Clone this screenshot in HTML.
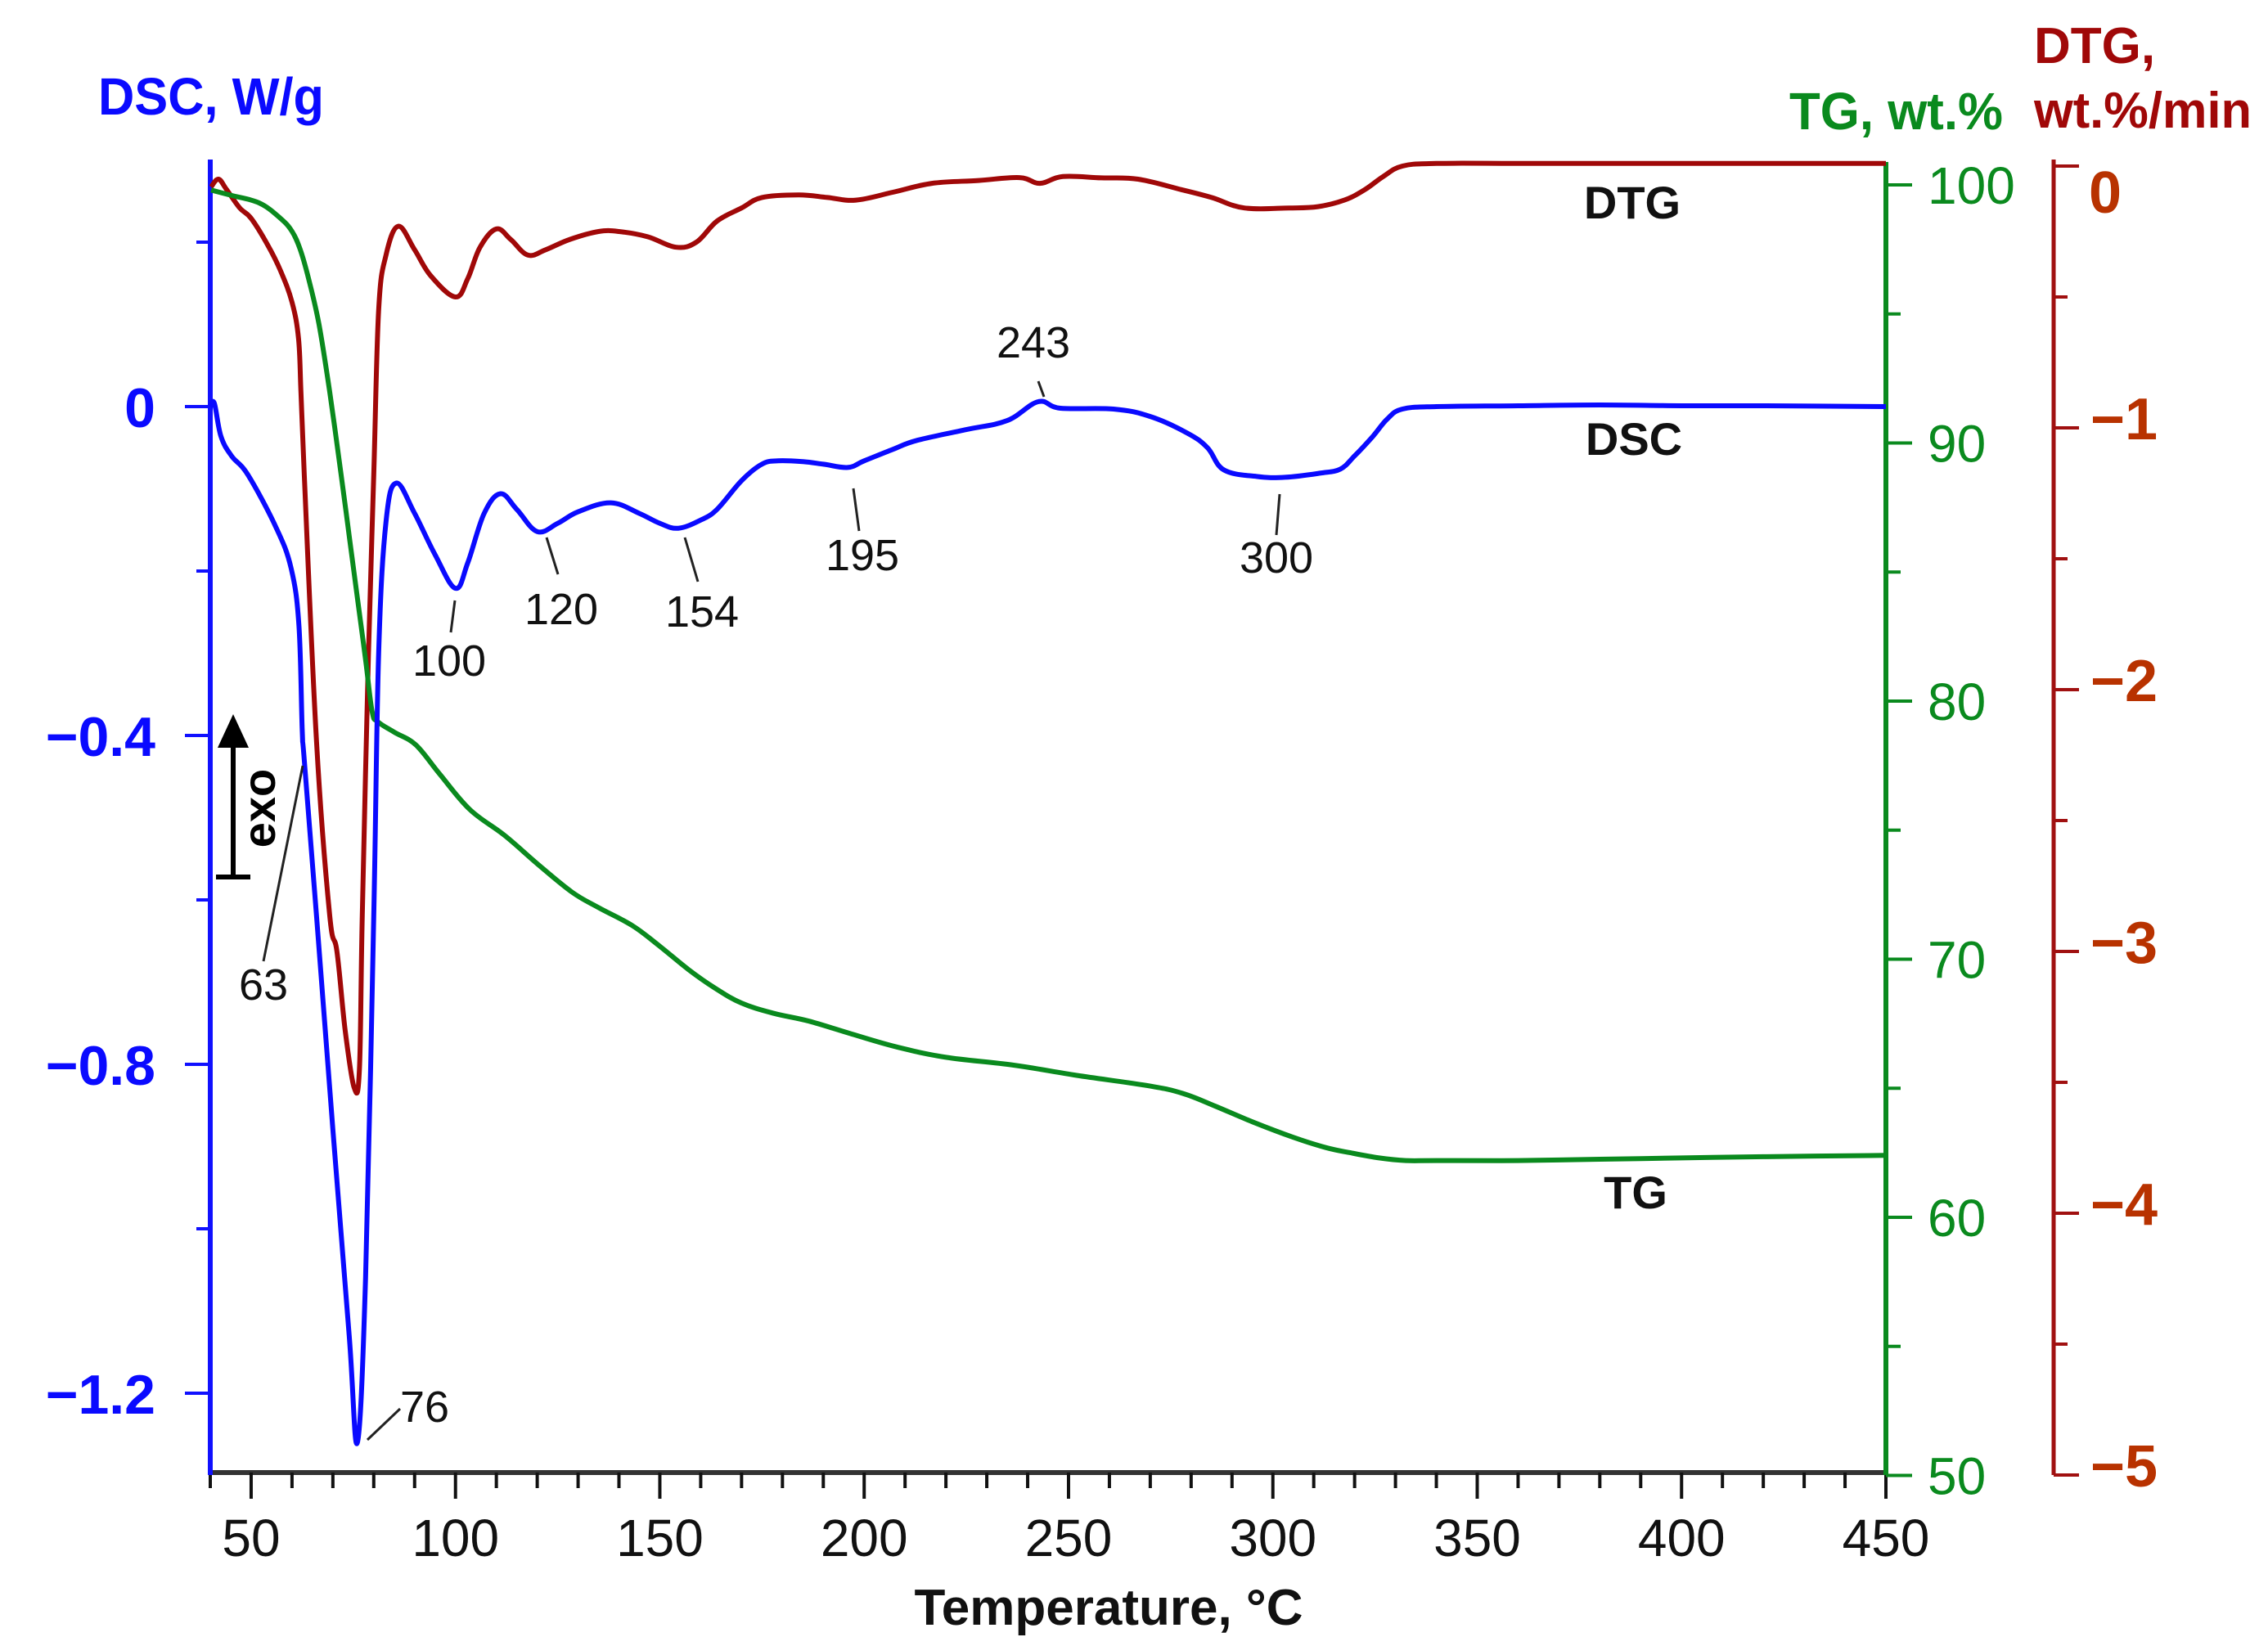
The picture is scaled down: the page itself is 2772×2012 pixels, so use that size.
<!DOCTYPE html>
<html><head><meta charset="utf-8"><style>
html,body{margin:0;padding:0;background:#fff;}
svg{display:block;}
text{font-family:"Liberation Sans",Arial,sans-serif;}
</style></head><body>
<svg id="chart" width="2772" height="2012" viewBox="0 0 2772 2012" xmlns="http://www.w3.org/2000/svg">
<g id="axes"></g>
<g id="series"></g>
<g id="annot"></g>
</svg>
<script>
// ---- data ----
const xTicks = [50,100,150,200,250,300,350,400,450];
const dscTicks = [0,-0.4,-0.8,-1.2];
const dscTickLabels = ["0","\u22120.4","\u22120.8","\u22121.2"];
const tgTicks = [100,90,80,70,60,50];
const dtgTicks = [0,-1,-2,-3,-4,-5];
const dtgTickLabels = ["0","\u22121","\u22122","\u22123","\u22124","\u22125"];

const dscT = [40,41,42.6,45.2,49.2,56,59.8,61.7,62.5,63,66,70,74,76,78,80,81.2,83,85.5,90,95,100,103,107,111,115,120,125,130,138,145,150,154.5,160,164,170,175,179,185,190,196,200,207,213,225,235,242.6,248,261,270,279,284,288,296,303,311.5,316.5,320,324.5,328,331.7,340,360,380,400,420,450];
const dscV = [0,0.004,-0.036,-0.06,-0.083,-0.146,-0.197,-0.267,-0.394,-0.43,-0.62,-0.88,-1.13,-1.26,-1.06,-0.62,-0.3,-0.14,-0.093,-0.13,-0.18,-0.221,-0.19,-0.13,-0.106,-0.125,-0.152,-0.142,-0.128,-0.117,-0.13,-0.142,-0.148,-0.138,-0.125,-0.09,-0.07,-0.066,-0.067,-0.07,-0.074,-0.066,-0.052,-0.041,-0.028,-0.017,0.006,-0.002,-0.003,-0.012,-0.032,-0.05,-0.077,-0.085,-0.086,-0.081,-0.076,-0.06,-0.036,-0.015,-0.003,0.0,0.001,0.002,0.001,0.001,0.0];

const tgT = [40.2,45,52,57.2,60,62,64,66.6,69.2,72,74,76,78,79.6,81,85,90.3,96,103.5,112,120,128.5,135,143.3,150,157,163.3,170,178,186.5,197,208,220,236.4,252,269.4,278,286,295,305,313,319,326,332.5,340,360,380,400,420,450];
const tgV = [99.8,99.6,99.3,98.7,98.2,97.5,96.4,94.6,92,88.8,86.4,84,81.6,79.6,79.2,78.8,78.3,77.2,75.8,74.8,73.7,72.6,72.0,71.3,70.5,69.6,68.9,68.3,67.9,67.6,67.1,66.6,66.2,65.9,65.5,65.1,64.8,64.3,63.7,63.1,62.7,62.5,62.3,62.2,62.2,62.2,62.25,62.3,62.35,62.4];

const dtgT = [40.2,42,44,47.2,50,54,57.2,60,61.6,62.2,63,66,69.2,71,73,75.2,76.5,77.2,78.7,80,81.2,83,86,90,94,100,103,106,110,113.5,117.7,122,128,135,140,147,154,159,164,170,175,184,191,198,207,216.6,228,238,243,248.6,258,267,277.6,285,293,304,311,317.5,322.5,327,331.7,340,360,380,400,420,450];
const dtgV = [-0.08,-0.05,-0.09,-0.16,-0.2,-0.3,-0.4,-0.52,-0.66,-0.87,-1.18,-2.2,-2.86,-3.0,-3.3,-3.52,-3.45,-2.86,-1.87,-1.18,-0.55,-0.34,-0.23,-0.32,-0.42,-0.5,-0.43,-0.31,-0.24,-0.28,-0.34,-0.32,-0.28,-0.25,-0.25,-0.27,-0.31,-0.29,-0.21,-0.16,-0.12,-0.11,-0.12,-0.13,-0.1,-0.066,-0.055,-0.044,-0.066,-0.04,-0.045,-0.05,-0.09,-0.12,-0.16,-0.16,-0.155,-0.13,-0.09,-0.04,0.0,0.01,0.01,0.01,0.01,0.01,0.01];

// ---- scales ----
const X0=257, X1=2305;
const xS = t => X0 + (t-40)*(X1-X0)/410;
const dscY = v => 497 - v*1005;
const tgY = v => 226 + (100-v)*31.55;
const dtgY = v => 203 - v*320;

const NS="http://www.w3.org/2000/svg";
function mk(tag, attrs, parent, txt){
  const e=document.createElementNS(NS,tag);
  for(const k in attrs) e.setAttribute(k,attrs[k]);
  if(txt!==undefined) e.textContent=txt;
  parent.appendChild(e); return e;
}
const axes=document.getElementById('axes');
const series=document.getElementById('series');
const annot=document.getElementById('annot');

function smooth(pts){
  let d="M"+pts[0][0].toFixed(1)+","+pts[0][1].toFixed(1);
  for(let i=0;i<pts.length-1;i++){
    const p0=pts[Math.max(0,i-1)],p1=pts[i],p2=pts[i+1],p3=pts[Math.min(pts.length-1,i+2)];
    const t=0.18;
    const c1=[p1[0]+(p2[0]-p0[0])*t,p1[1]+(p2[1]-p0[1])*t];
    const c2=[p2[0]-(p3[0]-p1[0])*t,p2[1]-(p3[1]-p1[1])*t];
    d+=" C"+c1[0].toFixed(1)+","+c1[1].toFixed(1)+" "+c2[0].toFixed(1)+","+c2[1].toFixed(1)+" "+p2[0].toFixed(1)+","+p2[1].toFixed(1);
  }
  return d;
}

// ---- axes ----
let e=mk('line',{x1:X0,y1:1800,x2:X1,y2:1800,stroke:'#333',"stroke-width":6},axes);
 
for(let t=40;t<=450;t+=10){
  const major = t%50===0;
  e=mk('line',{x1:xS(t),y1:1800,x2:xS(t),y2:major?1832:1819,stroke:'#111',"stroke-width":4},axes);
   
}
xTicks.forEach(t=>{
  e=mk('text',{x:xS(t),y:1902,"font-size":64,"text-anchor":"middle",fill:'#111'},axes,String(t));
   
});
e=mk('text',{x:1355,y:1986,"font-size":62,"font-weight":"bold","text-anchor":"middle",fill:'#111',textLength:475,lengthAdjust:"spacingAndGlyphs"},axes,"Temperature, \u00B0C");
 

// DSC axis (left)
e=mk('line',{x1:X0,y1:195,x2:X0,y2:1803,stroke:'#1010ff',"stroke-width":6},axes);
 
for(let i=0;i<=7;i++){
  const v=0.2-i*0.2; const major=(i%2===1);
  e=mk('line',{x1:major?226:240,y1:dscY(v),x2:X0,y2:dscY(v),stroke:'#1010ff',"stroke-width":4},axes);
   
}
dscTicks.forEach((v,i)=>{
  e=mk('text',{x:190,y:dscY(v)+25,"font-size":68,"font-weight":"bold","text-anchor":"end",fill:'#0a0aff'},axes,dscTickLabels[i]);
   
});
e=mk('text',{x:120,y:140,"font-size":64,"font-weight":"bold",fill:'#0a0aff',textLength:276,lengthAdjust:"spacingAndGlyphs"},axes,"DSC, W/g");
 

// TG axis
e=mk('line',{x1:X1,y1:198,x2:X1,y2:1803,stroke:'#0a8a1e',"stroke-width":6},axes);
 
for(let v=100;v>=50;v-=5){
  const major=v%10===0;
  e=mk('line',{x1:X1,y1:tgY(v),x2:major?2337:2323,y2:tgY(v),stroke:'#0a8a1e',"stroke-width":4},axes);
   
}
tgTicks.forEach(v=>{
  e=mk('text',{x:2356,y:tgY(v)+23,"font-size":64,fill:'#0a8a1e'},axes,String(v));
   
});
e=mk('text',{x:2187,y:158,"font-size":64,"font-weight":"bold",fill:'#0a8a1e',textLength:261,lengthAdjust:"spacingAndGlyphs"},axes,"TG, wt.%");
 

// DTG axis
e=mk('line',{x1:2510,y1:195,x2:2510,y2:1803,stroke:'#a01010',"stroke-width":5},axes);
 
for(let v=0;v>=-5;v-=0.5){
  const major=Math.abs(v%1)<1e-9;
  e=mk('line',{x1:2510,y1:dtgY(v),x2:major?2541:2527,y2:dtgY(v),stroke:'#a01010',"stroke-width":4},axes);
   
}
dtgTicks.forEach((v,i)=>{
  const dy = v===0 ? 57 : 14;
  e=mk('text',{x:v===0?2553:2555,y:dtgY(v)+dy,"font-size":72,"font-weight":"bold",fill:'#b83200'},axes,dtgTickLabels[i]);
   
});
e=mk('text',{x:2486,y:77,"font-size":62,"font-weight":"bold",fill:'#a00808'},axes,"DTG,");
 
e=mk('text',{x:2486,y:156,"font-size":62,"font-weight":"bold",fill:'#a00808',textLength:266,lengthAdjust:"spacingAndGlyphs"},axes,"wt.%/min");
 

// ---- series ----
e=mk('path',{d:smooth(dtgT.map((t,i)=>[xS(t),dtgY(dtgV[i])])),fill:'none',stroke:'#a00808',"stroke-width":6,"stroke-linejoin":"round"},series);
 
e=mk('path',{d:smooth(tgT.map((t,i)=>[xS(t),tgY(tgV[i])])),fill:'none',stroke:'#0a8a1e',"stroke-width":6,"stroke-linejoin":"round"},series);
 
e=mk('path',{d:smooth(dscT.map((t,i)=>[xS(t),dscY(dscV[i])])),fill:'none',stroke:'#0a0aff',"stroke-width":6,"stroke-linejoin":"round"},series);
 

// ---- annotations ----
const lbl=[["DTG",1995,267],["DSC",1997,556],["TG",1999,1477]];
lbl.forEach(a=>{
  e=mk('text',{x:a[1],y:a[2],"font-size":56,"font-weight":"bold","text-anchor":"middle",fill:'#111'},annot,a[0]);
   
});
const peaks=[["243",1263,437,1269,466,1276,485],["100",549,826,556,734,551,773],["120",686,763,668,657,682,702],["154",858,766,837,657,853,711],["195",1054,697,1043,597,1050,649],["300",1560,700,1564,604,1560,654],["63",322,1222,370,936,322,1175],["76",519,1738,449,1760,489,1722]];
peaks.forEach(p=>{
  e=mk('line',{x1:p[3],y1:p[4],x2:p[5],y2:p[6],stroke:'#222',"stroke-width":3},annot);
   
  e=mk('text',{x:p[1],y:p[2],"font-size":54,"text-anchor":"middle",fill:'#111'},annot,p[0]);
   
});
// exo arrow
e=mk('line',{x1:285,y1:905,x2:285,y2:1072,stroke:'#000',"stroke-width":6},annot);
 
e=mk('polygon',{points:"285,873 266,914 304,914",fill:'#000'},annot);
 
e=mk('line',{x1:264,y1:1072,x2:306,y2:1072,stroke:'#000',"stroke-width":6},annot);
 
e=mk('text',{x:0,y:0,"font-size":56,"font-weight":"bold","text-anchor":"middle",fill:'#000',transform:"translate(336,988) rotate(-90)"},annot,"exo");
 
</script>
</body></html>
